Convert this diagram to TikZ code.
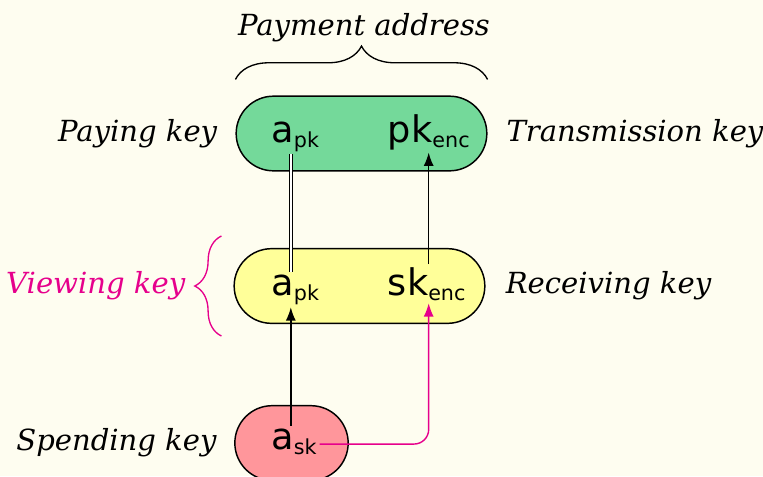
\documentclass[tikz,border=0pt]{standalone}
\usepackage{fontspec}
\usetikzlibrary{positioning,arrows.meta,shapes.misc,decorations.pathreplacing}
\newfontfamily\keyfont{DejaVu Sans}
\newfontfamily\labelfont{DejaVu Serif}
\definecolor{zpaper}{RGB}{254,253,240}
\definecolor{zgreen}{RGB}{116,217,154}
\definecolor{zyellow}{RGB}{255,255,153}
\definecolor{zpink}{RGB}{255,150,155}
\definecolor{zmagenta}{RGB}{230,0,140}
\newcommand{\keyname}[2]{#1\raisebox{-3.75pt}{\fontsize{15.5}{15.5}\selectfont #2}}

\begin{document}
\begin{tikzpicture}[
    x=0.75pt, y=-0.75pt,
    keybox/.style={rounded rectangle, draw, line width=1.1pt, minimum height=56pt, inner sep=0pt},
    keytext/.style={inner sep=2pt, anchor=base west, font=\keyfont\fontsize{27.5}{30}\selectfont},
    keylabel/.style={inner sep=0pt, font=\labelfont\itshape\fontsize{21.8}{26}\selectfont},
    link/.style={line width=1.05pt, -{Latex[length=10pt,width=7.5pt]}},
    bracket/.style={decorate, line width=1pt}
]
\useasboundingbox (0,0) rectangle (763,476);
\fill[zpaper] (0,0) rectangle (763,476);

% the three keys
\node[keybox, fill=zgreen, minimum width=188pt] (payaddr) at (361.5,133.5) {};
\node[keybox, fill=zyellow, minimum width=188pt] (viewkey) at (359.5,286) {};
\node[keybox, fill=zpink, minimum width=85pt] (spendkey) at (291.5,443) {};

\node[keytext] (apkpay) at (268.5,142) {\keyname{a}{pk}};
\node[keytext] (pkenc) at (385,142) {\keyname{pk}{enc}};
\node[keytext] (apkview) at (268.5,295) {\keyname{a}{pk}};
\node[keytext] (skenc) at (385,295) {\keyname{sk}{enc}};
\node[keytext] (ask) at (268.5,449) {\keyname{a}{sk}};

% names
\node[keylabel, left=13.5pt of payaddr] (payname) {Paying key};
\node[keylabel, right=14pt of payaddr] (transname) {Transmission key};
\node[keylabel, right=15pt of viewkey] (recvname) {Receiving key};
\node[keylabel, left=36pt of viewkey, text=zmagenta] (viewname) {Viewing key};
\node[keylabel, left=13pt of spendkey] (spendname) {Spending key};
\node[keylabel, anchor=base] (addrname) at (364,35) {Payment address};

% braces
\draw[bracket, decoration={brace, amplitude=25pt}]
    ([yshift=12pt]payaddr.west |- payaddr.north) -- ([yshift=12pt]payaddr.east |- payaddr.north);
\draw[bracket, zmagenta, decoration={brace, amplitude=20pt}]
    ([xshift=-9pt, yshift=-37.5pt]viewkey.west) -- ([xshift=-9pt, yshift=37.5pt]viewkey.west);

% derivations
\draw[line width=0.85pt, double, double distance=1.2pt]
    ([xshift=-3.3pt]apkview.north) -- ([xshift=-3.3pt]apkview.north |- apkpay.south);
\draw[link] ([xshift=1.5pt]skenc.north) -- ([xshift=1.5pt]skenc.north |- pkenc.south);
\draw[link] ([xshift=-3.3pt]apkview.south |- ask.north) -- ([xshift=-3.3pt]apkview.south);
\draw[link, zmagenta, rounded corners=11pt]
    ([yshift=-2pt]ask.east) -| ([xshift=1.5pt]skenc.south);
\end{tikzpicture}
\end{document}
